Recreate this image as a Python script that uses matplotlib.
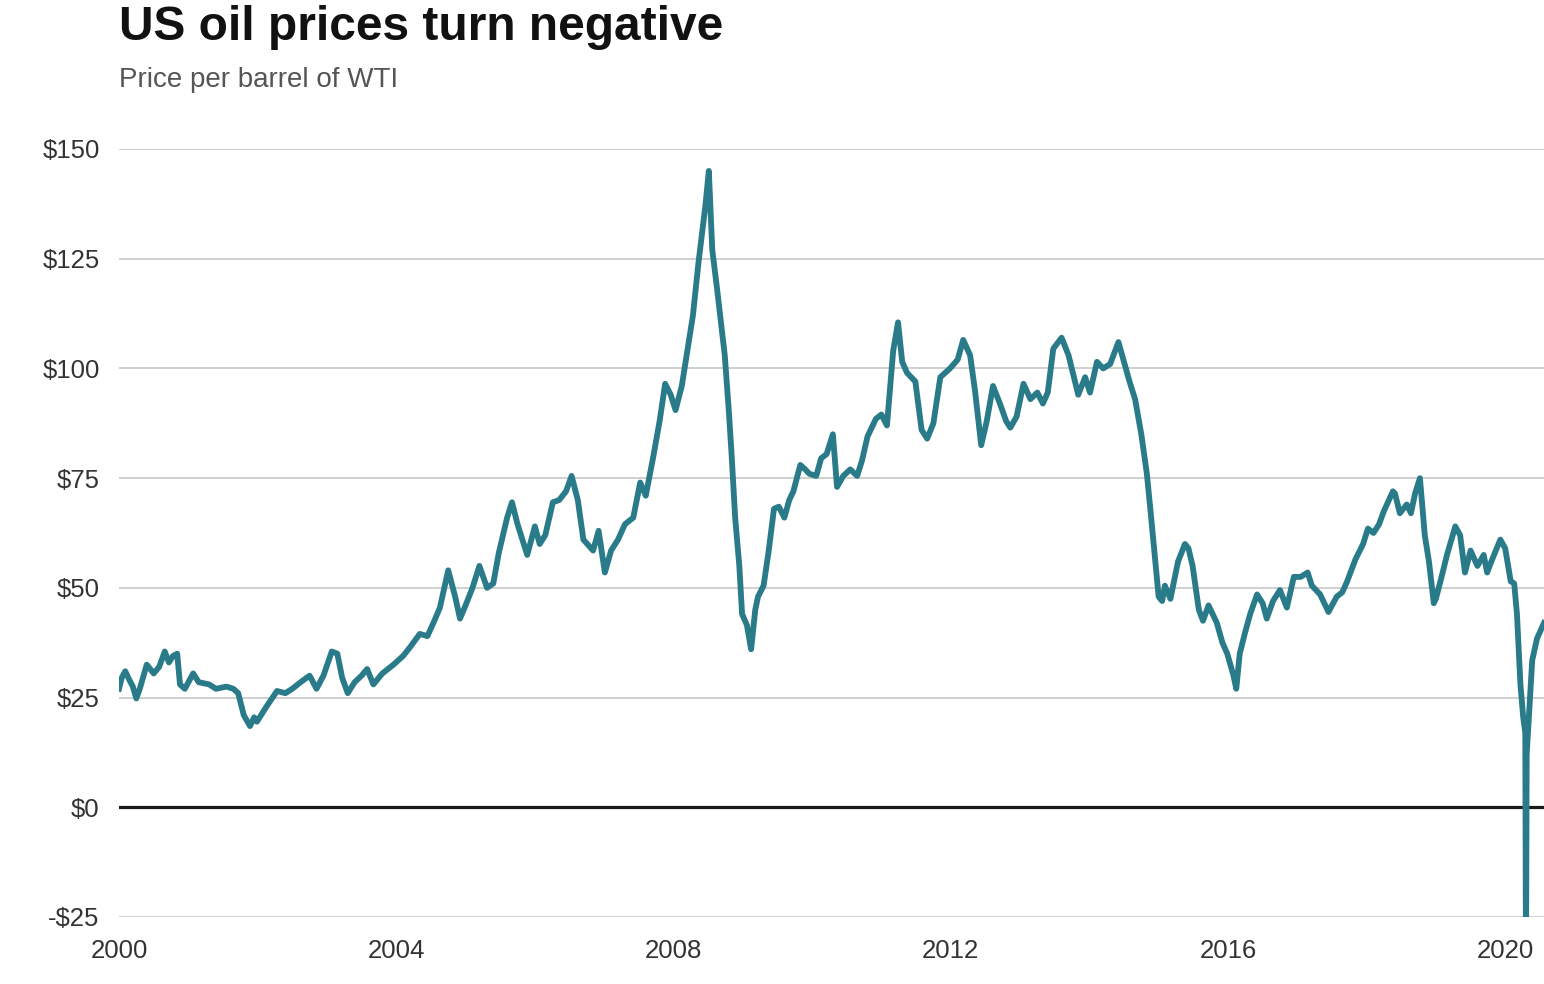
import numpy as np
import matplotlib
matplotlib.use("Agg")
import matplotlib.pyplot as plt

plt.rcParams['font.family'] = ['Liberation Sans', 'DejaVu Sans']

# WTI price per barrel (x in fractional years)
years = [
    2000.00, 2000.04, 2000.09, 2000.15, 2000.20, 2000.25, 2000.30, 2000.40, 2000.50, 2000.58,
    2000.66, 2000.72, 2000.78, 2000.84, 2000.88, 2000.95, 2001.07, 2001.15, 2001.30, 2001.40,
    2001.55, 2001.65, 2001.72, 2001.80, 2001.89, 2001.95, 2001.99, 2002.13, 2002.28, 2002.40,
    2002.50, 2002.62, 2002.75, 2002.85, 2002.95, 2003.07, 2003.15, 2003.22, 2003.30, 2003.40,
    2003.50, 2003.58, 2003.67, 2003.80, 2003.96, 2004.10, 2004.20, 2004.34, 2004.45, 2004.55,
    2004.63, 2004.75, 2004.85, 2004.92, 2005.00, 2005.10, 2005.20, 2005.31, 2005.40, 2005.48,
    2005.60, 2005.67, 2005.75, 2005.89, 2006.00, 2006.07, 2006.15, 2006.26, 2006.35, 2006.45,
    2006.53, 2006.62, 2006.70, 2006.84, 2006.92, 2007.01, 2007.10, 2007.20, 2007.30, 2007.42,
    2007.52, 2007.60, 2007.71, 2007.80, 2007.88, 2007.96, 2008.03, 2008.12, 2008.20, 2008.28,
    2008.36, 2008.46, 2008.51, 2008.56, 2008.63, 2008.74, 2008.80, 2008.84, 2008.89, 2008.95,
    2008.99, 2009.06, 2009.12, 2009.18, 2009.22, 2009.30, 2009.37, 2009.45, 2009.52, 2009.60,
    2009.67, 2009.73, 2009.83, 2009.90, 2009.96, 2010.06, 2010.13, 2010.21, 2010.30, 2010.36,
    2010.45, 2010.55, 2010.65, 2010.72, 2010.80, 2010.92, 2011.00, 2011.08, 2011.17, 2011.24,
    2011.30, 2011.37, 2011.49, 2011.58, 2011.66, 2011.75, 2011.85, 2011.99, 2012.10, 2012.18,
    2012.28, 2012.35, 2012.44, 2012.52, 2012.61, 2012.71, 2012.80, 2012.86, 2012.95, 2013.05,
    2013.15, 2013.25, 2013.33, 2013.40, 2013.48, 2013.60, 2013.70, 2013.84, 2013.94, 2014.01,
    2014.11, 2014.20, 2014.30, 2014.42, 2014.50, 2014.58, 2014.66, 2014.75, 2014.83, 2014.88,
    2014.94, 2015.00, 2015.05, 2015.09, 2015.17, 2015.28, 2015.38, 2015.43, 2015.49, 2015.58,
    2015.64, 2015.72, 2015.84, 2015.92, 2015.99, 2016.08, 2016.12, 2016.17, 2016.25, 2016.32,
    2016.42, 2016.50, 2016.56, 2016.65, 2016.75, 2016.85, 2016.95, 2017.05, 2017.15, 2017.21,
    2017.33, 2017.45, 2017.57, 2017.65, 2017.72, 2017.84, 2017.95, 2018.02, 2018.10, 2018.18,
    2018.25, 2018.38, 2018.41, 2018.48, 2018.58, 2018.64, 2018.70, 2018.77, 2018.84, 2018.90,
    2018.97, 2019.00, 2019.09, 2019.16, 2019.28, 2019.35, 2019.42, 2019.50, 2019.60, 2019.69,
    2019.74, 2019.80, 2019.93, 2020.00, 2020.08, 2020.13, 2020.17, 2020.22, 2020.26, 2020.29,
    2020.30, 2020.31, 2020.34, 2020.39, 2020.46, 2020.56,
]
prices = [
    27.0, 29.5, 31.0, 29.0, 27.5, 24.8, 27.0, 32.5, 30.5, 32.0,
    35.5, 33.0, 34.5, 35.0, 28.0, 27.0, 30.5, 28.5, 28.0, 27.0,
    27.5, 27.0, 26.0, 21.0, 18.5, 20.5, 19.5, 23.0, 26.5, 26.0,
    27.0, 28.5, 30.0, 27.0, 30.0, 35.5, 35.0, 29.5, 26.0, 28.5,
    30.0, 31.5, 28.0, 30.5, 32.5, 34.5, 36.5, 39.5, 39.0, 42.5,
    45.5, 54.0, 48.0, 43.0, 46.0, 50.0, 55.0, 50.0, 51.0, 58.0,
    66.0, 69.5, 64.5, 57.5, 64.0, 60.0, 62.0, 69.5, 70.0, 72.0,
    75.5, 70.0, 61.0, 58.5, 63.0, 53.5, 58.5, 61.0, 64.5, 66.0,
    74.0, 71.0, 80.0, 88.0, 96.5, 94.0, 90.5, 96.0, 104.0, 112.0,
    124.0, 137.0, 145.0, 127.0, 118.0, 103.0, 90.0, 80.0, 66.0, 55.0,
    44.0, 41.5, 36.0, 45.0, 48.0, 50.5, 58.0, 68.0, 68.5, 66.0,
    70.0, 72.0, 78.0, 77.0, 76.0, 75.5, 79.5, 80.5, 85.0, 73.0,
    75.5, 77.0, 75.5, 79.0, 84.5, 88.5, 89.5, 87.0, 104.0, 110.5,
    101.5, 99.0, 97.0, 86.0, 84.0, 87.5, 98.0, 100.0, 102.0, 106.5,
    103.0, 95.0, 82.5, 88.0, 96.0, 92.0, 88.0, 86.5, 89.0, 96.5,
    93.0, 94.5, 92.0, 94.5, 104.5, 107.0, 103.0, 94.0, 98.0, 94.5,
    101.5, 100.0, 101.0, 106.0, 101.5, 97.0, 93.0, 85.0, 76.0, 68.0,
    58.0, 48.0, 47.0, 50.5, 47.5, 56.0, 60.0, 59.0, 55.0, 45.0,
    42.5, 46.0, 42.0, 37.5, 35.0, 30.0, 27.0, 35.0, 40.0, 44.0,
    48.5, 46.5, 43.0, 47.0, 49.5, 45.5, 52.5, 52.5, 53.5, 50.5,
    48.5, 44.5, 48.0, 49.0, 51.5, 56.5, 60.0, 63.5, 62.5, 64.5,
    67.5, 72.0, 71.5, 67.0, 69.0, 67.0, 71.5, 75.0, 62.0, 56.0,
    46.5, 47.5, 53.0, 57.5, 64.0, 62.0, 53.5, 58.5, 55.0, 57.5,
    53.5, 56.0, 61.0, 59.0, 51.5, 51.0, 44.0, 28.0, 20.5, 17.0,
    -37.6, 12.0, 20.0, 33.5, 38.5, 42.0,
]

ytick_vals = [-25, 0, 25, 50, 75, 100, 125, 150]
ytick_labels = ['-$25', '$0', '$25', '$50', '$75', '$100', '$125', '$150']
xtick_vals = [2000, 2004, 2008, 2012, 2016, 2020]
xtick_labels = ['2000', '2004', '2008', '2012', '2016', '2020']

fig = plt.figure(figsize=(15.44, 9.84), dpi=100)
ax = fig.add_axes([119/1544, 1 - 917/984, 1 - 119/1544, (917 - 149)/984])

for v in ytick_vals:
    if v == 0:
        ax.axhline(v, color='#1a1a1a', lw=2.3, zorder=2)
    else:
        ax.axhline(v, color='#cccccc', lw=1.3, zorder=1)

ax.plot(years, prices, color='#2a7b8a', lw=4.2, solid_joinstyle='round', zorder=3)

ax.set_xlim(2000, 2020.56)
ax.set_ylim(-25, 150)
ax.set_yticks(ytick_vals)
ax.set_yticklabels(ytick_labels)
ax.set_xticks(xtick_vals)
ax.set_xticklabels(xtick_labels)
ax.tick_params(axis='both', length=0, labelsize=18.5, colors='#333333')
ax.tick_params(axis='y', pad=14)
ax.tick_params(axis='x', pad=16)
for s in ax.spines.values():
    s.set_visible(False)

fig.text(119/1544, 1 - 40/984, 'US oil prices turn negative', fontsize=34.5,
         fontweight='bold', color='#111111', va='baseline', ha='left')
fig.text(119/1544, 1 - 87/984, 'Price per barrel of WTI', fontsize=20,
         color='#555555', va='baseline', ha='left')

fig.savefig('out.png', dpi=100)
